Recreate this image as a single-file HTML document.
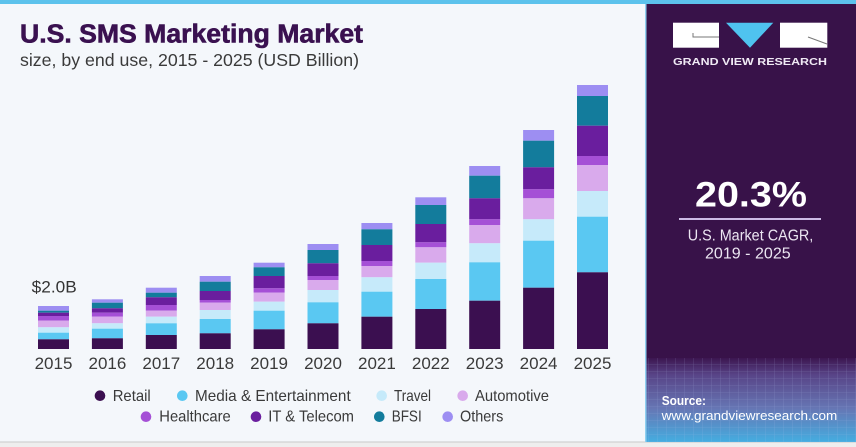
<!DOCTYPE html>
<html><head><meta charset="utf-8"><style>
html,body{margin:0;padding:0;background:#f4f7fb;}
svg{display:block;}
text{font-family:"Liberation Sans",sans-serif;}
</style></head><body>
<svg width="856" height="447" viewBox="0 0 856 447" xmlns="http://www.w3.org/2000/svg">
<defs>
<linearGradient id="pg" x1="0" y1="0" x2="0" y2="1">
<stop offset="0" stop-color="#3c1650"/>
<stop offset="0.2" stop-color="#584487"/>
<stop offset="0.6" stop-color="#6676b4"/>
<stop offset="1" stop-color="#45ade0"/>
</linearGradient>
<pattern id="grid" width="9" height="7" patternUnits="userSpaceOnUse">
<path d="M0 0H9M0 0V7" stroke="#b8c8f0" stroke-width="0.6" stroke-opacity="0.35" fill="none"/>
</pattern>
</defs>
<rect x="0" y="0" width="856" height="447" fill="#f4f7fb"/>
<rect x="0" y="442" width="856" height="5" fill="#eeeeee"/>
<rect x="0" y="441.5" width="856" height="1" fill="#c9c9c9"/>
<rect x="0" y="0" width="856" height="4" fill="#5cc2ec"/>
<!-- right panel -->
<rect x="645" y="4" width="211" height="438" fill="#381249"/>
<rect x="645" y="4" width="1.5" height="438" fill="#8fd0f0"/>
<rect x="646.5" y="358" width="209.5" height="84" fill="url(#pg)"/>
<rect x="646.5" y="358" width="209.5" height="84" fill="url(#grid)"/>
<!-- logo -->
<rect x="673" y="22.7" width="46" height="25" fill="#ffffff"/>
<path d="M693 33V37H719" stroke="#777" stroke-width="1" fill="none"/>
<polygon points="726,22.7 773.3,22.7 750,47.7" fill="#4fc3ef"/>
<rect x="780" y="22.7" width="47.3" height="25" fill="#ffffff"/>
<path d="M808 37L827 44" stroke="#777" stroke-width="1" fill="none"/>
<text x="673" y="65" font-size="10" font-weight="bold" fill="#f0eaf5" textLength="154" lengthAdjust="spacingAndGlyphs">GRAND VIEW RESEARCH</text>
<text x="695" y="206.7" font-size="35" font-weight="bold" fill="#ffffff" textLength="112" lengthAdjust="spacingAndGlyphs">20.3%</text>
<rect x="679" y="218" width="142" height="2" fill="#cdbbe6"/>
<text x="687.7" y="240.7" font-size="15.5" fill="#ece6f2" textLength="125.6" lengthAdjust="spacingAndGlyphs">U.S. Market CAGR,</text>
<text x="705" y="258.3" font-size="15.5" fill="#ece6f2" textLength="85.7" lengthAdjust="spacingAndGlyphs">2019 - 2025</text>
<text x="661.7" y="405" font-size="13" font-weight="bold" fill="#ffffff" textLength="44.3" lengthAdjust="spacingAndGlyphs">Source:</text>
<text x="661.7" y="420" font-size="13" fill="#ffffff" textLength="175.6" lengthAdjust="spacingAndGlyphs">www.grandviewresearch.com</text>
<!-- titles -->
<text x="20" y="42.7" font-size="25.5" font-weight="bold" fill="#3a1150" stroke="#3a1150" stroke-width="0.6" textLength="343" lengthAdjust="spacingAndGlyphs">U.S. SMS Marketing Market</text>
<text x="20" y="66" font-size="17.5" fill="#3a3a3a" textLength="339" lengthAdjust="spacingAndGlyphs">size, by end use, 2015 - 2025 (USD Billion)</text>
<text x="31.7" y="292.7" font-size="17" fill="#333333" textLength="45" lengthAdjust="spacingAndGlyphs">$2.0B</text>
<g id="bars"></g>
<g id="years"></g>
<!-- legend -->
<g font-size="16" fill="#3a3a3a">
<circle cx="100" cy="395.7" r="5.3" fill="#3b0f50"/>
<text x="112.7" y="401" textLength="38" lengthAdjust="spacingAndGlyphs">Retail</text>
<circle cx="182.3" cy="395.7" r="5.3" fill="#5ac8f2"/>
<text x="195" y="401" textLength="155.7" lengthAdjust="spacingAndGlyphs">Media &amp; Entertainment</text>
<circle cx="381.7" cy="395.7" r="5.3" fill="#c6eafa"/>
<text x="394" y="401" textLength="37" lengthAdjust="spacingAndGlyphs">Travel</text>
<circle cx="462.7" cy="395.7" r="5.3" fill="#d9aaec"/>
<text x="475" y="401" textLength="74" lengthAdjust="spacingAndGlyphs">Automotive</text>
<circle cx="146" cy="416.7" r="5.3" fill="#a550d6"/>
<text x="159.3" y="421.5" textLength="71.4" lengthAdjust="spacingAndGlyphs">Healthcare</text>
<circle cx="256" cy="416.7" r="5.3" fill="#6a1e9e"/>
<text x="268.3" y="421.5" textLength="85.7" lengthAdjust="spacingAndGlyphs">IT &amp; Telecom</text>
<circle cx="379.3" cy="416.7" r="5.3" fill="#137c9c"/>
<text x="391.7" y="421.5" textLength="30" lengthAdjust="spacingAndGlyphs">BFSI</text>
<circle cx="447.7" cy="416.7" r="5.3" fill="#9d8ef2"/>
<text x="460" y="421.5" textLength="43.3" lengthAdjust="spacingAndGlyphs">Others</text>
</g>
<!-- bars (static) -->
<g>
<!-- 2015 -->
<rect x="38" y="306" width="31" height="4.7" fill="#9d8ef2"/><rect x="38" y="310.7" width="31" height="2" fill="#137c9c"/><rect x="38" y="312.7" width="31" height="3.3" fill="#6a1e9e"/><rect x="38" y="316" width="31" height="4.7" fill="#a550d6"/><rect x="38" y="320.7" width="31" height="6.6" fill="#d9aaec"/><rect x="38" y="327.3" width="31" height="5.4" fill="#c6eafa"/><rect x="38" y="332.7" width="31" height="6.6" fill="#5ac8f2"/><rect x="38" y="339.3" width="31" height="9.7" fill="#3b0f50"/>
<!-- 2016 -->
<rect x="91.9" y="299.3" width="31" height="3.4" fill="#9d8ef2"/><rect x="91.9" y="302.7" width="31" height="5.6" fill="#137c9c"/><rect x="91.9" y="308.3" width="31" height="4.4" fill="#6a1e9e"/><rect x="91.9" y="312.7" width="31" height="4" fill="#a550d6"/><rect x="91.9" y="316.7" width="31" height="6.6" fill="#d9aaec"/><rect x="91.9" y="323.3" width="31" height="5.4" fill="#c6eafa"/><rect x="91.9" y="328.7" width="31" height="9.6" fill="#5ac8f2"/><rect x="91.9" y="338.3" width="31" height="10.7" fill="#3b0f50"/>
<!-- 2017 -->
<rect x="145.8" y="287.7" width="31" height="5" fill="#9d8ef2"/><rect x="145.8" y="292.7" width="31" height="4.6" fill="#137c9c"/><rect x="145.8" y="297.3" width="31" height="7.7" fill="#6a1e9e"/><rect x="145.8" y="305" width="31" height="5.7" fill="#a550d6"/><rect x="145.8" y="310.7" width="31" height="6" fill="#d9aaec"/><rect x="145.8" y="316.7" width="31" height="6.6" fill="#c6eafa"/><rect x="145.8" y="323.3" width="31" height="11.7" fill="#5ac8f2"/><rect x="145.8" y="335" width="31" height="14" fill="#3b0f50"/>
<!-- 2018 -->
<rect x="199.7" y="276" width="31" height="5.7" fill="#9d8ef2"/><rect x="199.7" y="281.7" width="31" height="9.3" fill="#137c9c"/><rect x="199.7" y="291" width="31" height="9" fill="#6a1e9e"/><rect x="199.7" y="300" width="31" height="2.7" fill="#a550d6"/><rect x="199.7" y="302.7" width="31" height="7.3" fill="#d9aaec"/><rect x="199.7" y="310" width="31" height="9" fill="#c6eafa"/><rect x="199.7" y="319" width="31" height="14.3" fill="#5ac8f2"/><rect x="199.7" y="333.3" width="31" height="15.7" fill="#3b0f50"/>
<!-- 2019 -->
<rect x="253.6" y="262.7" width="31" height="4.6" fill="#9d8ef2"/><rect x="253.6" y="267.3" width="31" height="8.7" fill="#137c9c"/><rect x="253.6" y="276" width="31" height="12.3" fill="#6a1e9e"/><rect x="253.6" y="288.3" width="31" height="4.4" fill="#a550d6"/><rect x="253.6" y="292.7" width="31" height="9" fill="#d9aaec"/><rect x="253.6" y="301.7" width="31" height="9" fill="#c6eafa"/><rect x="253.6" y="310.7" width="31" height="18.6" fill="#5ac8f2"/><rect x="253.6" y="329.3" width="31" height="19.7" fill="#3b0f50"/>
<!-- 2020 -->
<rect x="307.5" y="244" width="31" height="6" fill="#9d8ef2"/><rect x="307.5" y="250" width="31" height="13.3" fill="#137c9c"/><rect x="307.5" y="263.3" width="31" height="12.7" fill="#6a1e9e"/><rect x="307.5" y="276" width="31" height="4" fill="#a550d6"/><rect x="307.5" y="280" width="31" height="10" fill="#d9aaec"/><rect x="307.5" y="290" width="31" height="12.3" fill="#c6eafa"/><rect x="307.5" y="302.3" width="31" height="21" fill="#5ac8f2"/><rect x="307.5" y="323.3" width="31" height="25.7" fill="#3b0f50"/>
<!-- 2021 -->
<rect x="361.4" y="223" width="31" height="6.3" fill="#9d8ef2"/><rect x="361.4" y="229.3" width="31" height="15.7" fill="#137c9c"/><rect x="361.4" y="245" width="31" height="16" fill="#6a1e9e"/><rect x="361.4" y="261" width="31" height="5" fill="#a550d6"/><rect x="361.4" y="266" width="31" height="11.3" fill="#d9aaec"/><rect x="361.4" y="277.3" width="31" height="14.4" fill="#c6eafa"/><rect x="361.4" y="291.7" width="31" height="25" fill="#5ac8f2"/><rect x="361.4" y="316.7" width="31" height="32.3" fill="#3b0f50"/>
<!-- 2022 -->
<rect x="415.3" y="197.3" width="31" height="7.7" fill="#9d8ef2"/><rect x="415.3" y="205" width="31" height="19" fill="#137c9c"/><rect x="415.3" y="224" width="31" height="18.3" fill="#6a1e9e"/><rect x="415.3" y="242.3" width="31" height="5" fill="#a550d6"/><rect x="415.3" y="247.3" width="31" height="15.4" fill="#d9aaec"/><rect x="415.3" y="262.7" width="31" height="16.3" fill="#c6eafa"/><rect x="415.3" y="279" width="31" height="30" fill="#5ac8f2"/><rect x="415.3" y="309" width="31" height="40" fill="#3b0f50"/>
<!-- 2023 -->
<rect x="469.2" y="166" width="31" height="9.7" fill="#9d8ef2"/><rect x="469.2" y="175.7" width="31" height="22.6" fill="#137c9c"/><rect x="469.2" y="198.3" width="31" height="21" fill="#6a1e9e"/><rect x="469.2" y="219.3" width="31" height="5.7" fill="#a550d6"/><rect x="469.2" y="225" width="31" height="18.3" fill="#d9aaec"/><rect x="469.2" y="243.3" width="31" height="19" fill="#c6eafa"/><rect x="469.2" y="262.3" width="31" height="38.4" fill="#5ac8f2"/><rect x="469.2" y="300.7" width="31" height="48.3" fill="#3b0f50"/>
<!-- 2024 -->
<rect x="523.1" y="130" width="31" height="10.7" fill="#9d8ef2"/><rect x="523.1" y="140.7" width="31" height="26.6" fill="#137c9c"/><rect x="523.1" y="167.3" width="31" height="22" fill="#6a1e9e"/><rect x="523.1" y="189.3" width="31" height="9" fill="#a550d6"/><rect x="523.1" y="198.3" width="31" height="21" fill="#d9aaec"/><rect x="523.1" y="219.3" width="31" height="21.4" fill="#c6eafa"/><rect x="523.1" y="240.7" width="31" height="47" fill="#5ac8f2"/><rect x="523.1" y="287.7" width="31" height="61.3" fill="#3b0f50"/>
<!-- 2025 -->
<rect x="577" y="85" width="31" height="11" fill="#9d8ef2"/><rect x="577" y="96" width="31" height="29.7" fill="#137c9c"/><rect x="577" y="125.7" width="31" height="30.3" fill="#6a1e9e"/><rect x="577" y="156" width="31" height="9" fill="#a550d6"/><rect x="577" y="165" width="31" height="26" fill="#d9aaec"/><rect x="577" y="191" width="31" height="25.7" fill="#c6eafa"/><rect x="577" y="216.7" width="31" height="55.6" fill="#5ac8f2"/><rect x="577" y="272.3" width="31" height="76.7" fill="#3b0f50"/>
</g>
<g font-size="17" fill="#3a3a3a" text-anchor="middle">
<text x="53.5" y="369">2015</text>
<text x="107.4" y="369">2016</text>
<text x="161.3" y="369">2017</text>
<text x="215.2" y="369">2018</text>
<text x="269.1" y="369">2019</text>
<text x="323" y="369">2020</text>
<text x="376.9" y="369">2021</text>
<text x="430.8" y="369">2022</text>
<text x="484.7" y="369">2023</text>
<text x="538.6" y="369">2024</text>
<text x="592.5" y="369">2025</text>
</g>
</svg>
</body></html>
